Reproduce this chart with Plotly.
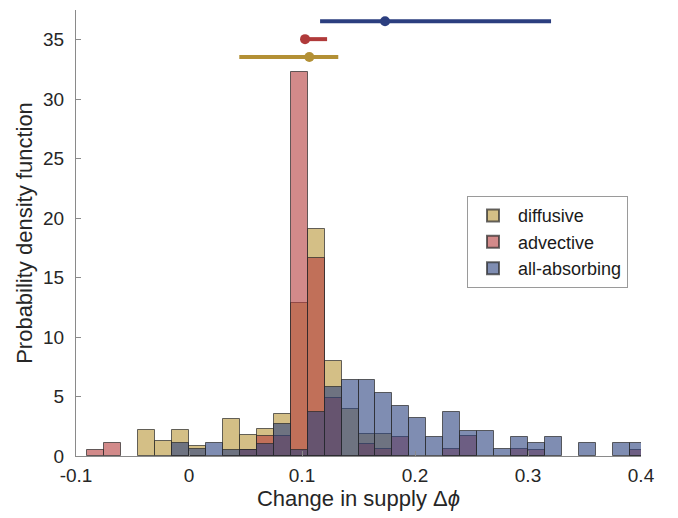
import plotly.graph_objects as go

# ---- data ----
bin_width = 0.015
bin_left_edges = [k * bin_width for k in range(-6, 27)]

diffusive = [0, 0, 0, 2.2, 1.3, 2.2, 0.88, 0, 3.07, 1.78, 2.23, 3.57, 12.9, 19.1, 7.98, 3.97,
             1.81, 1.81, 0, 0, 0, 0, 0, 0, 0, 0, 0, 0, 0, 0, 0, 0, 0]
advective = [0.52, 1.08, 0, 0, 0, 0, 0, 0, 0, 0.52, 1.64, 1.64, 32.3, 16.67, 4.86, 0,
             1.02, 0.55, 1.58, 0, 0, 0.55, 1.64, 0, 0, 0.55, 0.52, 0, 0, 0, 0, 0, 0.52]
all_absorbing = [0, 0, 0, 0, 0, 1.08, 0.55, 1.08, 0.52, 0.52, 1.02, 2.7, 0.52, 3.69, 5.79, 6.35,
                 6.35, 5.28, 4.22, 3.18, 1.58, 3.69, 2.12, 2.12, 0.55, 1.58, 1.08, 1.58, 0, 1.08, 0, 1.08, 1.08]

series_names = ["diffusive", "advective", "all-absorbing"]
# summary (point, lower, upper, y-level) for each series
summary_point = [0.1065, 0.1027, 0.1735]
summary_low = [0.0445, 0.1005, 0.116]
summary_high = [0.1321, 0.1222, 0.3204]
summary_level = [33.55, 35.05, 36.55]

x_ticks = [-0.1, 0, 0.1, 0.2, 0.3, 0.4]
x_tick_labels = ["-0.1", "0", "0.1", "0.2", "0.3", "0.4"]
y_ticks = [0, 5, 10, 15, 20, 25, 30, 35]

fill_colors = ["rgba(184,148,53,0.6)", "rgba(180,60,60,0.6)", "rgba(41,65,127,0.6)"]
line_colors = ["#b39035", "#b03a3a", "#2b3e7f"]

bin_centers = [e + bin_width / 2 for e in bin_left_edges]

fig = go.Figure()
for name, vals, fc in zip(series_names, [diffusive, advective, all_absorbing], fill_colors):
    fig.add_trace(go.Bar(
        x=bin_centers, y=[v if v else None for v in vals], width=bin_width,
        name=name, marker=dict(color=fc, line=dict(color="rgba(40,40,40,0.7)", width=1)),
    ))

for i in range(3):
    fig.add_trace(go.Scatter(
        x=[summary_point[i]], y=[summary_level[i]], mode="markers",
        marker=dict(color=line_colors[i], size=10),
        error_x=dict(type="data", symmetric=False,
                     array=[summary_high[i] - summary_point[i]],
                     arrayminus=[summary_point[i] - summary_low[i]],
                     color=line_colors[i], thickness=4, width=0),
        showlegend=False, hoverinfo="skip",
    ))

font_family = "Liberation Sans, Arial, sans-serif"
fig.update_layout(
    width=678, height=518,
    margin=dict(l=68, r=45, t=2, b=70),
    plot_bgcolor="white", paper_bgcolor="white",
    barmode="overlay", bargap=0,
    font=dict(family=font_family, size=19, color="#262626"),
    legend=dict(x=0.692, y=0.5825, xanchor="left", yanchor="top",
                bgcolor="white", bordercolor="#9a9a9a", borderwidth=1,
                font=dict(size=18, color="#1a1a1a"),
                itemsizing="constant", itemwidth=40),
)
fig.update_xaxes(
    range=[-0.1, 0.4], tickvals=x_ticks, ticktext=x_tick_labels,
    showline=True, linecolor="#8a8a8a", linewidth=1, mirror=False,
    ticks="inside", ticklen=5, tickcolor="#8a8a8a", showgrid=False, zeroline=False,
    ticklabelstandoff=2,
    title=dict(text="Change in supply Δ<i>ϕ</i>", font=dict(size=22), standoff=4),
)
fig.update_yaxes(
    range=[0, 37.5], tickvals=y_ticks,
    showline=True, linecolor="#8a8a8a", linewidth=1, mirror=False,
    ticks="inside", ticklen=5, tickcolor="#8a8a8a", showgrid=False, zeroline=False,
    ticklabelstandoff=7,
    title=dict(text="Probability density function", font=dict(size=22), standoff=4),
)

fig.write_html("out.html")
